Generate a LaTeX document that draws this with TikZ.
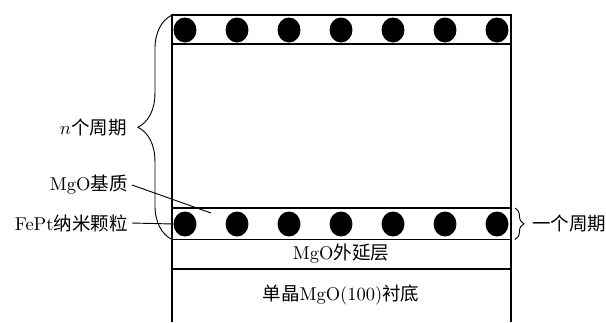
\documentclass[tikz,border=0pt]{standalone}
\usepackage{fontspec}
\newfontfamily\cjk{Noto Sans CJK SC}
\usetikzlibrary{shapes.geometric,decorations.pathreplacing}
\begin{document}
\begin{tikzpicture}[x=0.54pt,y=-0.54pt,
  layer/.style={line width=0.8pt},
  particle/.style={ellipse,fill=black,draw=none,inner sep=0pt,minimum width=12.4pt,minimum height=13.5pt},
  lbl/.style={inner sep=0pt,font=\fontsize{10}{12}\selectfont},
  leader/.style={line width=0.5pt},
  bracestyle/.style={line width=0.5pt,decorate}]
\useasboundingbox (0,0) rectangle (606,322);
% layers
\draw[layer] (172,322) -- (172,15) -- (511,15) -- (511,322);
\draw[layer] (172,44) -- (511,44);
\draw[layer] (172,208) -- (511,208);
\draw[layer] (172,239.5) -- (511,239.5);
\draw[layer] (172,269) -- (511,269);
% particles
\foreach \i/\x in {1/185,2/237,3/289,4/341,5/393,6/445,7/497}{
  \node[particle] (t\i) at (\x,30) {};
  \node[particle] (b\i) at (\x,224) {};
}
% layer texts
\node[lbl] (epi) at (341,254) {MgO{\cjk 外延层}};
\node[lbl] (sub) at (341,295) {{\cjk 单晶}MgO(100){\cjk 衬底}};
% braces
\coordinate (bl1) at (172,239.5);
\coordinate (bl2) at (172,15);
\draw[bracestyle,decoration={brace,amplitude=18.4pt}] (bl1) -- (bl2);
\coordinate (br1) at (515,208);
\coordinate (br2) at (515,239.5);
\draw[bracestyle,decoration={brace,amplitude=4.8pt}] (br1) -- (br2);
\node[lbl,anchor=east] (np) at (127,128) {$n${\cjk 个周期}};
\node[lbl,anchor=west] (op) at (532,224) {{\cjk 一个周期}};
% leaders
\node[lbl,anchor=east] (mgo) at (128,185) {MgO{\cjk 基质}};
\node[lbl,anchor=east] (fept) at (128,223) {FePt{\cjk 纳米颗粒}};
\coordinate (matrix) at (211,213);
\draw[leader] ([xshift=2.2pt]mgo.east) -- (matrix);
\draw[leader] ([xshift=2.2pt]fept.east) -- (b1.west);
\end{tikzpicture}
\end{document}
